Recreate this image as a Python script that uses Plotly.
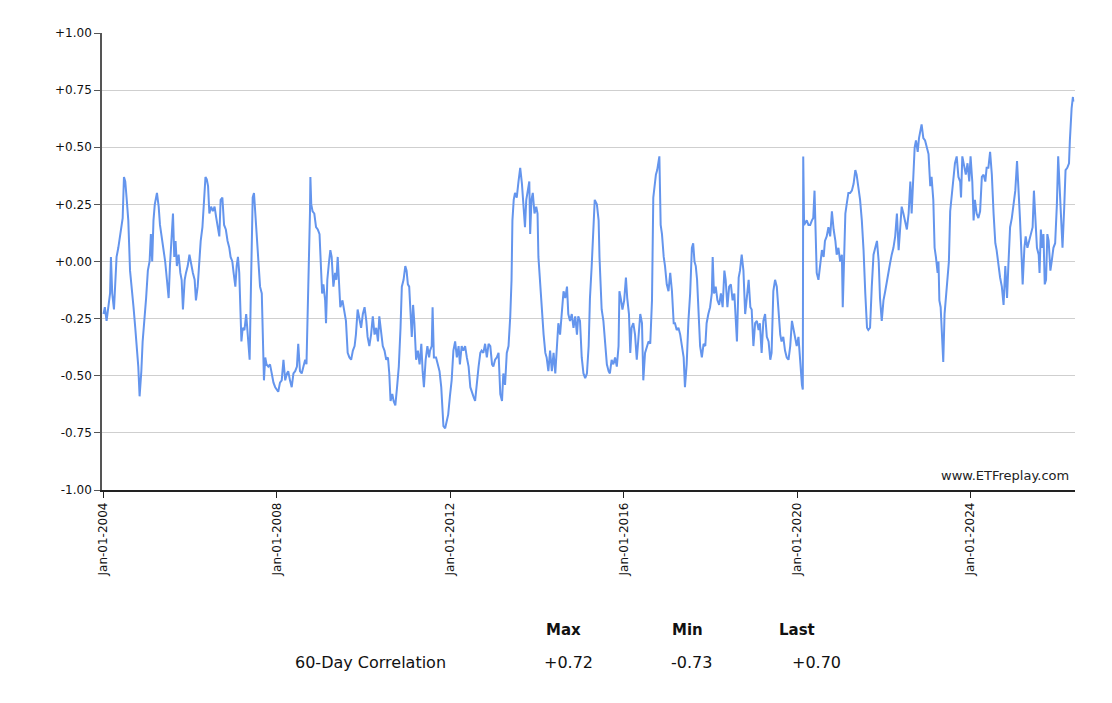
import datetime as dt
import plotly.graph_objects as go

# ---------------- data ----------------
years = [
    2004.00, 2004.03, 2004.07, 2004.11, 2004.15, 2004.17, 2004.20, 2004.24, 2004.27, 2004.30,
    2004.34, 2004.38, 2004.42, 2004.44, 2004.47, 2004.50, 2004.53, 2004.57, 2004.61, 2004.65,
    2004.69, 2004.73, 2004.77, 2004.80, 2004.83, 2004.87, 2004.90, 2004.94, 2004.98, 2005.02,
    2005.06, 2005.09, 2005.12, 2005.15, 2005.18, 2005.23, 2005.27, 2005.30, 2005.34, 2005.38,
    2005.42, 2005.46, 2005.50, 2005.53, 2005.57, 2005.60, 2005.63, 2005.66, 2005.69, 2005.73,
    2005.77, 2005.80, 2005.83, 2005.87, 2005.90, 2005.94, 2005.98, 2006.02, 2006.06, 2006.10,
    2006.13, 2006.17, 2006.20, 2006.24, 2006.28, 2006.32, 2006.35, 2006.38, 2006.41, 2006.44,
    2006.48, 2006.52, 2006.56, 2006.60, 2006.63, 2006.67, 2006.70, 2006.74, 2006.78, 2006.82,
    2006.86, 2006.90, 2006.93, 2006.97, 2007.00, 2007.04, 2007.07, 2007.10, 2007.13, 2007.15,
    2007.18, 2007.21, 2007.25, 2007.29, 2007.33, 2007.37, 2007.40, 2007.42, 2007.44, 2007.47,
    2007.50, 2007.53, 2007.57, 2007.61, 2007.65, 2007.67, 2007.70,
    2007.73, 2007.76, 2007.80, 2007.84, 2007.88, 2007.92, 2007.96, 2008.00, 2008.03, 2008.07,
    2008.11, 2008.15, 2008.19, 2008.23, 2008.26, 2008.30, 2008.34, 2008.38, 2008.42, 2008.46,
    2008.49, 2008.53, 2008.57, 2008.61, 2008.65, 2008.68, 2008.71, 2008.73, 2008.76, 2008.77,
    2008.79, 2008.82, 2008.86, 2008.90, 2008.94, 2008.98, 2009.01, 2009.04, 2009.07, 2009.11,
    2009.13, 2009.16, 2009.20, 2009.23, 2009.26, 2009.30, 2009.34, 2009.37, 2009.40, 2009.43,
    2009.46, 2009.51, 2009.56, 2009.59, 2009.63, 2009.67, 2009.71, 2009.75, 2009.79, 2009.82,
    2009.86, 2009.90, 2009.94, 2009.98, 2010.02, 2010.06, 2010.09, 2010.13, 2010.17, 2010.21,
    2010.25, 2010.29, 2010.33, 2010.36, 2010.40, 2010.44, 2010.48, 2010.52, 2010.56, 2010.59,
    2010.62, 2010.66, 2010.69, 2010.73, 2010.77, 2010.81, 2010.85, 2010.88, 2010.92, 2010.96,
    2010.99, 2011.02, 2011.05, 2011.08, 2011.11, 2011.14, 2011.17, 2011.21, 2011.25, 2011.29,
    2011.33, 2011.36, 2011.39, 2011.43, 2011.47, 2011.51,
    2011.53, 2011.57, 2011.59, 2011.62, 2011.67, 2011.71, 2011.75, 2011.79, 2011.82, 2011.84,
    2011.88, 2011.92, 2011.95, 2011.99, 2012.03, 2012.07, 2012.11, 2012.15, 2012.19, 2012.22,
    2012.26, 2012.30, 2012.34, 2012.38, 2012.42, 2012.46, 2012.49, 2012.53, 2012.57, 2012.61,
    2012.65, 2012.69, 2012.72, 2012.76, 2012.80, 2012.84, 2012.88, 2012.92, 2012.96, 2012.99,
    2013.03, 2013.07, 2013.11, 2013.15, 2013.19, 2013.22, 2013.26, 2013.30, 2013.34, 2013.38,
    2013.41, 2013.43, 2013.46, 2013.49, 2013.53, 2013.57, 2013.61, 2013.65, 2013.69, 2013.72,
    2013.75, 2013.79, 2013.82, 2013.84, 2013.87, 2013.90, 2013.94, 2013.98, 2014.01, 2014.03,
    2014.07, 2014.11, 2014.15, 2014.19, 2014.22, 2014.26, 2014.30, 2014.34, 2014.38, 2014.42,
    2014.46, 2014.49, 2014.53, 2014.57, 2014.61, 2014.65, 2014.69, 2014.72, 2014.76, 2014.80,
    2014.84, 2014.88, 2014.92, 2014.95, 2014.99, 2015.03, 2015.07, 2015.11, 2015.15, 2015.19,
    2015.22, 2015.26, 2015.30, 2015.33,
    2015.38, 2015.42, 2015.44, 2015.47, 2015.49, 2015.53, 2015.57, 2015.61, 2015.65, 2015.68,
    2015.72, 2015.76, 2015.80, 2015.84, 2015.88, 2015.90, 2015.93, 2015.97, 2016.01, 2016.05,
    2016.08, 2016.12, 2016.15, 2016.18, 2016.22, 2016.26, 2016.30, 2016.34, 2016.38, 2016.42,
    2016.45, 2016.49, 2016.53, 2016.57, 2016.61, 2016.65, 2016.68, 2016.71, 2016.74, 2016.77,
    2016.80, 2016.82, 2016.85, 2016.88, 2016.92, 2016.95, 2016.99, 2017.03, 2017.07, 2017.11,
    2017.15, 2017.18, 2017.22, 2017.26, 2017.30, 2017.34, 2017.38, 2017.41, 2017.45, 2017.49,
    2017.53, 2017.57, 2017.60, 2017.63, 2017.66, 2017.69, 2017.72, 2017.76, 2017.80, 2017.84,
    2017.88, 2017.91, 2017.95, 2017.99, 2018.03, 2018.05, 2018.08, 2018.12, 2018.16, 2018.20,
    2018.24, 2018.28, 2018.32, 2018.35, 2018.39, 2018.43, 2018.47, 2018.51, 2018.55, 2018.58,
    2018.61, 2018.65, 2018.68, 2018.72, 2018.76, 2018.80, 2018.84, 2018.88, 2018.92, 2018.95,
    2018.99, 2019.03, 2019.07, 2019.11,
    2019.14, 2019.18, 2019.22, 2019.26, 2019.30, 2019.34, 2019.38, 2019.41, 2019.45, 2019.49,
    2019.53, 2019.57, 2019.61, 2019.64, 2019.68, 2019.72, 2019.76, 2019.80, 2019.84, 2019.88,
    2019.91, 2019.95, 2019.99, 2020.03, 2020.07, 2020.11, 2020.13, 2020.14, 2020.16, 2020.22,
    2020.26, 2020.30, 2020.34, 2020.37, 2020.40, 2020.42, 2020.45, 2020.49, 2020.53, 2020.57,
    2020.61, 2020.64, 2020.68, 2020.72, 2020.76, 2020.80, 2020.84, 2020.88, 2020.91, 2020.95,
    2020.99, 2021.03, 2021.05, 2021.08, 2021.11, 2021.14, 2021.18, 2021.22, 2021.26, 2021.30,
    2021.34, 2021.37, 2021.41, 2021.45, 2021.49, 2021.53, 2021.57, 2021.61, 2021.64, 2021.68,
    2021.72, 2021.76, 2021.80, 2021.84, 2021.88, 2021.91, 2021.95, 2021.99, 2022.03, 2022.07,
    2022.11, 2022.14, 2022.18, 2022.22, 2022.26, 2022.30, 2022.34, 2022.37, 2022.41, 2022.45,
    2022.49, 2022.53, 2022.57, 2022.61, 2022.64, 2022.68, 2022.71, 2022.74, 2022.78, 2022.81,
    2022.84, 2022.87, 2022.91,
    2022.95, 2022.99, 2023.03, 2023.07, 2023.10, 2023.14, 2023.17, 2023.20, 2023.24, 2023.26,
    2023.28, 2023.31, 2023.34, 2023.37, 2023.40, 2023.44, 2023.47, 2023.50, 2023.53, 2023.57,
    2023.60, 2023.64, 2023.68, 2023.72, 2023.76, 2023.78, 2023.81, 2023.85, 2023.89, 2023.93,
    2023.97, 2024.00, 2024.04, 2024.07, 2024.10, 2024.14, 2024.18, 2024.22, 2024.26, 2024.30,
    2024.34, 2024.37, 2024.41, 2024.45, 2024.49, 2024.53, 2024.57, 2024.60, 2024.64, 2024.68,
    2024.72, 2024.76, 2024.80, 2024.84, 2024.87, 2024.91, 2024.95, 2024.99, 2025.03, 2025.07,
    2025.10, 2025.14, 2025.18, 2025.20, 2025.24, 2025.27, 2025.31, 2025.35, 2025.39, 2025.43,
    2025.46, 2025.49, 2025.53, 2025.57, 2025.59, 2025.62, 2025.65, 2025.68, 2025.71, 2025.74,
    2025.77, 2025.80, 2025.84, 2025.87, 2025.91, 2025.95, 2025.99, 2026.02, 2026.05, 2026.08,
    2026.12, 2026.16, 2026.19, 2026.23, 2026.27, 2026.29, 2026.31, 2026.33, 2026.36, 2026.37,
]

corr = [
    -0.23, -0.20, -0.26, -0.20, -0.14, 0.02, -0.14, -0.21, -0.11, 0.02,
    0.06, 0.11, 0.15, 0.19, 0.37, 0.35, 0.28, 0.18, -0.04, -0.11,
    -0.20, -0.29, -0.37, -0.46, -0.59, -0.48, -0.35, -0.26, -0.16, -0.04,
    0.00, 0.12, 0.00, 0.18, 0.25, 0.30, 0.24, 0.16, 0.11, 0.06,
    0.00, -0.08, -0.16, -0.02, 0.14, 0.21, 0.02, 0.09, -0.02, 0.03,
    -0.05, -0.08, -0.21, -0.08, -0.05, -0.02, 0.03, -0.02, -0.05, -0.08,
    -0.17, -0.11, -0.02, 0.09, 0.15, 0.28, 0.37, 0.36, 0.33, 0.21,
    0.24, 0.22, 0.24, 0.19, 0.16, 0.11, 0.27, 0.28, 0.16, 0.14,
    0.09, 0.06, 0.02, 0.00, -0.05, -0.11, -0.02, 0.02, -0.05, -0.23,
    -0.35, -0.29, -0.30, -0.23, -0.32, -0.43, -0.11, 0.12, 0.28, 0.30,
    0.21, 0.11, -0.02, -0.11, -0.14, -0.30, -0.52,
    -0.42, -0.45, -0.46, -0.45, -0.49, -0.53, -0.55, -0.56, -0.57, -0.53,
    -0.52, -0.43, -0.52, -0.49, -0.48, -0.52, -0.55, -0.49, -0.48, -0.46,
    -0.36, -0.48, -0.49, -0.46, -0.43, -0.45, -0.24, -0.11, 0.21, 0.37,
    0.25, 0.22, 0.21, 0.15, 0.14, 0.12, -0.05, -0.14, -0.10, -0.17,
    -0.27, -0.08, 0.00, 0.05, 0.02, -0.11, -0.05, -0.08, 0.02, -0.11,
    -0.20, -0.17, -0.23, -0.26, -0.40, -0.42, -0.43, -0.39, -0.37, -0.32,
    -0.21, -0.26, -0.29, -0.23, -0.20, -0.26, -0.33, -0.37, -0.32, -0.24,
    -0.32, -0.29, -0.35, -0.24, -0.32, -0.37, -0.39, -0.43, -0.42, -0.49,
    -0.61, -0.58, -0.61, -0.63, -0.55, -0.46, -0.29, -0.11, -0.08, -0.02,
    -0.04, -0.10, -0.11, -0.23, -0.33, -0.19, -0.27, -0.43, -0.39, -0.45,
    -0.36, -0.48, -0.55, -0.43, -0.37, -0.42,
    -0.39, -0.37, -0.20, -0.42, -0.42, -0.45, -0.48, -0.55, -0.68, -0.72,
    -0.73, -0.70, -0.67, -0.59, -0.52, -0.39, -0.35, -0.42, -0.37, -0.45,
    -0.37, -0.39, -0.37, -0.42, -0.46, -0.55, -0.57, -0.59, -0.61, -0.52,
    -0.46, -0.40, -0.39, -0.40, -0.36, -0.42, -0.36, -0.37, -0.45, -0.46,
    -0.43, -0.42, -0.40, -0.58, -0.61, -0.49, -0.54, -0.40, -0.37, -0.24,
    -0.08, 0.18, 0.27, 0.30, 0.28, 0.35, 0.41, 0.34, 0.24, 0.15,
    0.27, 0.33, 0.35, 0.12, 0.27, 0.30, 0.21, 0.24, 0.21, 0.02,
    -0.11, -0.23, -0.32, -0.40, -0.42, -0.48, -0.39, -0.48, -0.40, -0.49,
    -0.37, -0.27, -0.32, -0.20, -0.13, -0.16, -0.11, -0.23, -0.26, -0.23,
    -0.29, -0.24, -0.32, -0.24, -0.26, -0.42, -0.49, -0.51, -0.49, -0.37,
    -0.16, -0.02, 0.14, 0.27,
    0.25, 0.18, 0.02, -0.11, -0.21, -0.26, -0.36, -0.45, -0.48, -0.49,
    -0.43, -0.45, -0.42, -0.46, -0.37, -0.13, -0.16, -0.21, -0.17, -0.07,
    -0.16, -0.23, -0.40, -0.29, -0.27, -0.32, -0.43, -0.33, -0.23, -0.27,
    -0.52, -0.40, -0.37, -0.35, -0.36, -0.17, 0.28, 0.33, 0.38, 0.40,
    0.44, 0.46, 0.16, 0.12, 0.02, -0.02, -0.10, -0.13, -0.05, -0.13,
    -0.27, -0.27, -0.30, -0.29, -0.32, -0.37, -0.42, -0.55, -0.45, -0.26,
    -0.14, 0.06, 0.08, 0.00, -0.02, -0.08, -0.21, -0.37, -0.42, -0.36,
    -0.37, -0.27, -0.23, -0.20, -0.14, 0.02, -0.14, -0.11, -0.17, -0.19,
    -0.14, -0.20, -0.04, -0.08, -0.20, -0.11, -0.10, -0.17, -0.14, -0.24,
    -0.35, -0.07, -0.04, 0.03, -0.04, -0.23, -0.14, -0.08, -0.20, -0.21,
    -0.37, -0.27, -0.26, -0.30,
    -0.27, -0.40, -0.26, -0.23, -0.33, -0.35, -0.43, -0.40, -0.13, -0.08,
    -0.11, -0.23, -0.32, -0.35, -0.33, -0.39, -0.42, -0.43, -0.37, -0.26,
    -0.29, -0.32, -0.37, -0.33, -0.46, -0.54, -0.56, 0.46, 0.16, 0.18,
    0.16, 0.16, 0.18, 0.19, 0.31, 0.12, -0.05, -0.08, 0.00, 0.05,
    0.02, 0.09, 0.11, 0.15, 0.11, 0.22, 0.14, 0.09, 0.03, 0.06,
    0.00, 0.03, -0.20, -0.01, 0.21, 0.25, 0.30, 0.30, 0.31, 0.34,
    0.40, 0.38, 0.33, 0.27, 0.18, 0.05, -0.14, -0.29, -0.30, -0.29,
    -0.11, 0.03, 0.06, 0.09, 0.00, -0.16, -0.26, -0.17, -0.13, -0.08,
    -0.05, -0.01, 0.03, 0.06, 0.11, 0.21, 0.05, 0.14, 0.24, 0.21,
    0.18, 0.14, 0.21, 0.35, 0.21, 0.38, 0.50, 0.53, 0.48, 0.54,
    0.57, 0.60, 0.54,
    0.53, 0.50, 0.47, 0.33, 0.37, 0.27, 0.06, 0.02, -0.05, 0.00,
    -0.17, -0.20, -0.35, -0.44, -0.23, -0.13, -0.08, 0.00, 0.22, 0.30,
    0.38, 0.43, 0.46, 0.37, 0.35, 0.28, 0.46, 0.41, 0.38, 0.43,
    0.35, 0.46, 0.35, 0.18, 0.27, 0.21, 0.19, 0.22, 0.37, 0.38,
    0.35, 0.41, 0.41, 0.48, 0.38, 0.21, 0.08, 0.05, -0.02, -0.07,
    -0.11, -0.19, -0.02, -0.16, -0.02, 0.15, 0.19, 0.24, 0.31, 0.44,
    0.35, 0.18, 0.00, -0.10, 0.06, 0.11, 0.06, 0.09, 0.12, 0.15,
    0.31, 0.18, 0.06, 0.03, -0.05, 0.14, 0.06, 0.12, -0.10, -0.08,
    0.12, 0.09, -0.04, 0.00, 0.06, 0.08, 0.25, 0.46, 0.35, 0.22,
    0.06, 0.24, 0.40, 0.41, 0.43, 0.53, 0.63, 0.67, 0.72, 0.70,
]

y_tickvals = [1.0, 0.75, 0.5, 0.25, 0.0, -0.25, -0.5, -0.75, -1.0]
y_ticktext = ["+1.00", "+0.75", "+0.50", "+0.25", "+0.00", "-0.25", "-0.50", "-0.75", "-1.00"]
x_range = ["2003-12-19", "2026-05-30"]
series_name = "60-Day Correlation"
stat_headers = ["Max", "Min", "Last"]
watermark = "www.ETFreplay.com"


def to_date(y):
    yr = int(y)
    start = dt.datetime(yr, 1, 1)
    nxt = dt.datetime(yr + 1, 1, 1)
    return start + (nxt - start) * (y - yr)


dates = [to_date(y) for y in years]


def fmt(v):
    return ("+" if v >= 0 else "-") + f"{abs(v):.2f}"


stats = [fmt(max(corr)), fmt(min(corr)), fmt(corr[-1])]

# ---------------- figure ----------------
FONT = "DejaVu Sans, Verdana, sans-serif"
fig = go.Figure()
fig.add_trace(go.Scatter(
    x=dates, y=corr, mode="lines",
    line=dict(color="#6495ED", width=2),
    hoverinfo="x+y", showlegend=False,
))

fig.update_layout(
    width=1112, height=703,
    margin=dict(l=102, r=37, t=33, b=213, pad=0),
    paper_bgcolor="white", plot_bgcolor="white",
    font=dict(family=FONT, size=12, color="#111"),
    xaxis=dict(
        type="date", range=x_range,
        tick0="2004-01-01", dtick="M48", tickformat="%b-%d-%Y",
        tickangle=-90, ticks="outside", ticklen=6, tickcolor="#222", tickwidth=1,
        showgrid=False, showline=True, linecolor="#222", linewidth=1.5,
        zeroline=False, tickfont=dict(size=12, color="#111"),
    ),
    yaxis=dict(
        range=[-1, 1], tickvals=y_tickvals, ticktext=y_ticktext,
        ticks="outside", ticklen=6, tickcolor="#555", tickwidth=1,
        showgrid=True, gridcolor="#cfcfcf", gridwidth=1,
        showline=True, linecolor="#555", linewidth=1.5,
        zeroline=False, tickfont=dict(size=12, color="#111"),
    ),
)

# watermark inside plot, bottom-right
fig.add_annotation(
    text=watermark, xref="paper", yref="paper", x=0.996, y=0.012,
    xanchor="right", yanchor="bottom", showarrow=False,
    font=dict(family=FONT, size=13, color="#222"),
)

# stats table below the chart (paper coords: plot spans x 102..1075, y 33..490)
def px_x(px):
    return (px - 102) / 973.0


def px_y(py):
    return (490 - py) / 457.0


col_centers = [563, 687, 797]
val_centers = [568, 691, 816]
for h, cx in zip(stat_headers, col_centers):
    fig.add_annotation(
        text=f"<b>{h}</b>", xref="paper", yref="paper", x=px_x(cx), y=px_y(630),
        xanchor="center", yanchor="middle", showarrow=False,
        font=dict(family=FONT, size=15, color="#111"),
    )
fig.add_annotation(
    text=series_name, xref="paper", yref="paper", x=px_x(293), y=px_y(662),
    xanchor="left", yanchor="middle", showarrow=False,
    font=dict(family=FONT, size=16, color="#111"),
)
for s, cx in zip(stats, val_centers):
    fig.add_annotation(
        text=s, xref="paper", yref="paper", x=px_x(cx), y=px_y(662),
        xanchor="center", yanchor="middle", showarrow=False,
        font=dict(family=FONT, size=16, color="#111"),
    )

fig.write_html("out.html")
